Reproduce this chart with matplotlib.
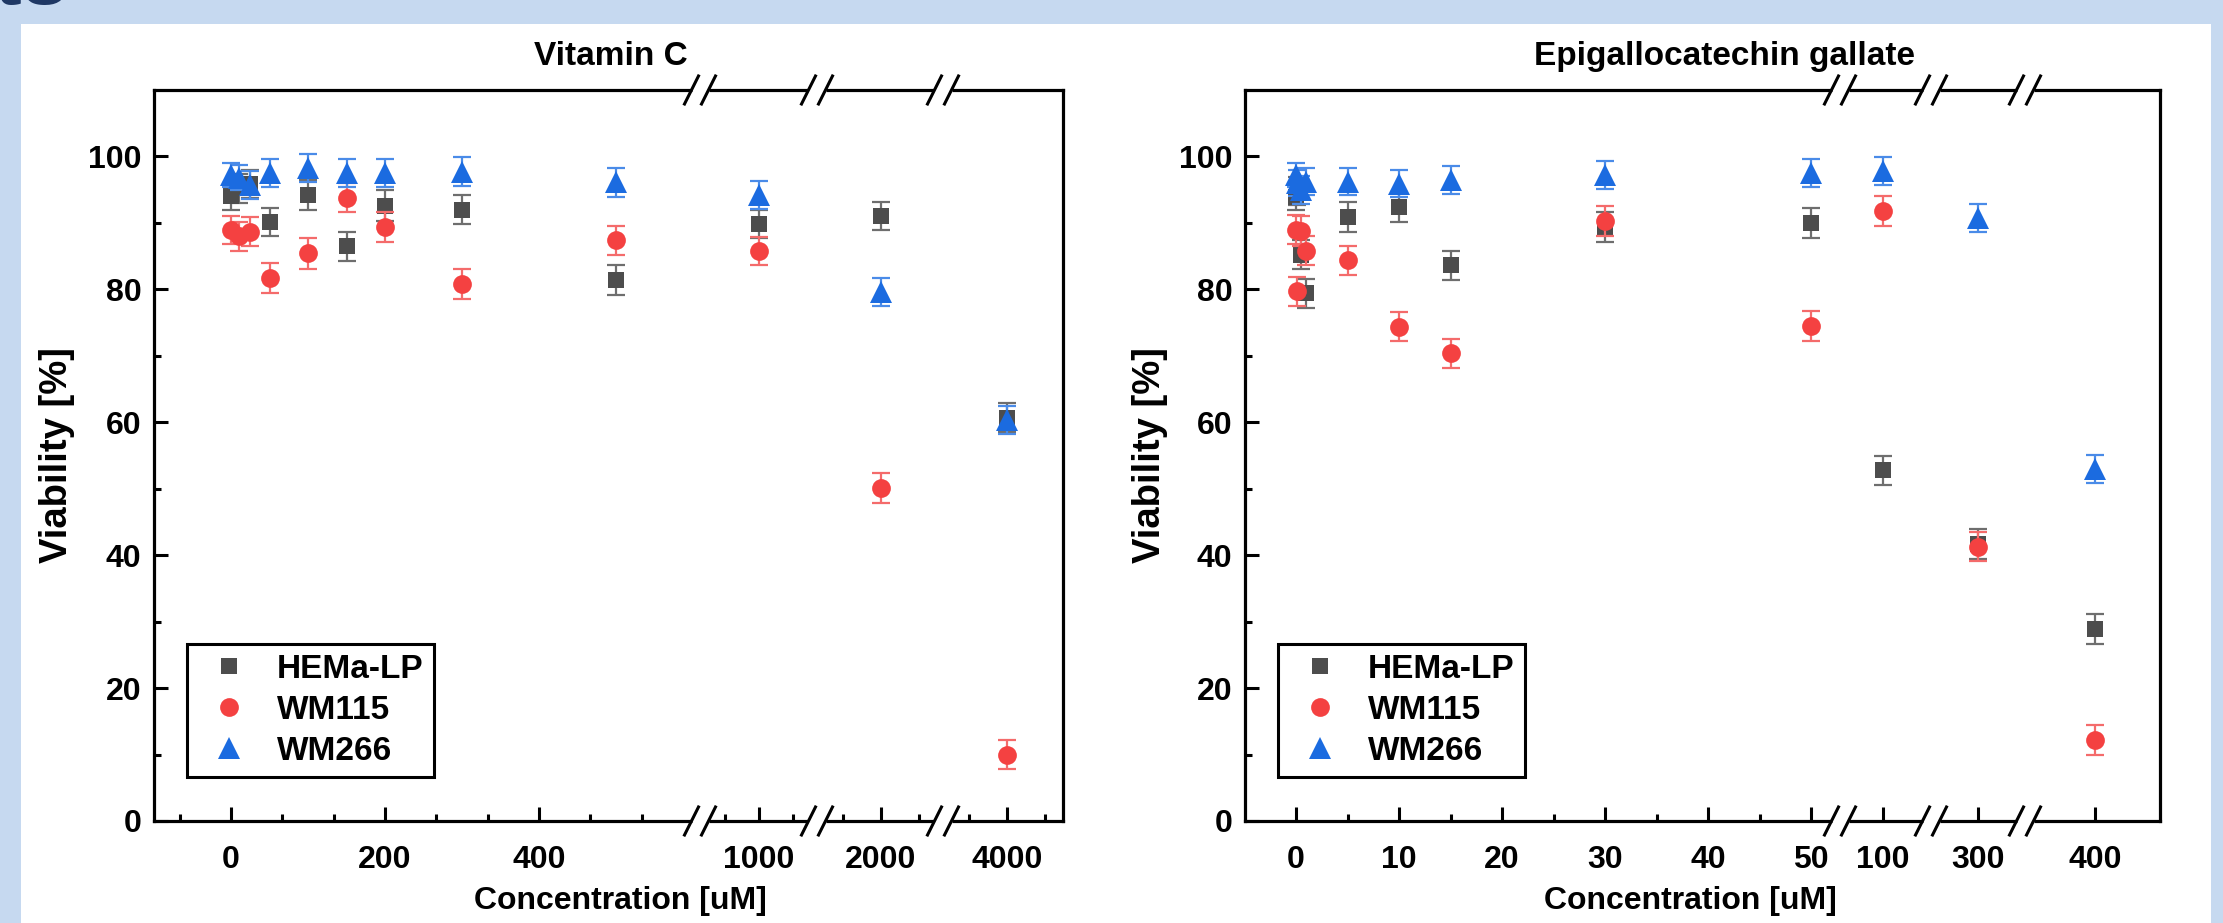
import numpy as np
import matplotlib
matplotlib.use('Agg')
import matplotlib.pyplot as plt
from matplotlib.patches import Rectangle

plt.rcParams['font.family'] = ['Liberation Sans', 'DejaVu Sans']
plt.rcParams['font.weight'] = 'bold'

# Data ------------------------------------------------------------------
series_names = ['HEMa-LP', 'WM115', 'WM266']

# Vitamin C
vitc_conc = [0, 10, 25, 50, 100, 150, 200, 300, 500, 1000, 2000, 4000]
vitc_hema = [94.0, 95.2, 95.8, 90.1, 94.2, 86.5, 92.6, 92.0, 81.4, 89.8, 91.0, 60.7]
vitc_hema_err = [2.0, 2.2, 2.1, 2.1, 2.3, 2.2, 2.3, 2.2, 2.2, 2.1, 2.1, 2.2]
vitc_wm115 = [89.0, 88.0, 88.7, 81.7, 85.4, 93.8, 89.4, 80.8, 87.4, 85.8, 50.1, 10.0]
vitc_wm115_err = [2.1, 2.2, 2.2, 2.2, 2.3, 2.2, 2.2, 2.2, 2.2, 2.1, 2.2, 2.2]
vitc_wm266 = [97.2, 96.8, 95.7, 97.5, 98.3, 97.5, 97.5, 97.7, 96.1, 94.2, 79.6, 60.3]
vitc_wm266_err = [1.8, 1.9, 2.1, 2.1, 2.1, 2.1, 2.1, 2.2, 2.2, 2.1, 2.1, 2.1]

# Epigallocatechin gallate
egcg_conc = [0, 0.1, 0.5, 1, 5, 10, 15, 30, 50, 100, 300, 400]
egcg_hema = [93.9, 94.8, 85.2, 79.4, 90.9, 92.4, 83.6, 89.4, 90.0, 52.8, 41.7, 28.9]
egcg_hema_err = [2.0, 2.1, 2.2, 2.2, 2.2, 2.2, 2.2, 2.2, 2.2, 2.2, 2.2, 2.2]
egcg_wm115 = [89.0, 79.7, 88.8, 85.8, 84.4, 74.4, 70.4, 90.3, 74.5, 91.8, 41.3, 12.2]
egcg_wm115_err = [2.2, 2.2, 2.2, 2.2, 2.2, 2.2, 2.2, 2.2, 2.2, 2.2, 2.2, 2.2]
egcg_wm266 = [97.2, 96.0, 95.0, 96.2, 96.2, 95.9, 96.5, 97.2, 97.5, 97.8, 90.7, 53.0]
egcg_wm266_err = [1.8, 2.0, 2.1, 2.0, 2.0, 2.0, 2.1, 2.1, 2.1, 2.1, 2.1, 2.1]

vitc_major = [0, 200, 400, 1000, 2000, 4000]
vitc_minor = [-200 / 3, 200 / 3, 400 / 3, 800 / 3, 1000 / 3, 1400 / 3, 1600 / 3,
              900, 1100, 1750, 2250, 3500, 4500]
egcg_major = [0, 10, 20, 30, 40, 50, 100, 300, 400]
egcg_minor = [5, 15, 25, 35, 45]

# Layout (pixels on the 2223x923 canvas) ----------------------------------
W, H = 2223, 923
BG = '#c6d9f0'
colors = ['#4d4d4d', '#f44141', '#1b6be0']
ecolors = ['#6e6e6e', '#f46b6b', '#4a8be8']
markers = ['s', 'o', '^']
msizes = [12, 13.5, 15.5]

# axes box: left, top, right, bottom
vitc_box = (154, 90, 1063, 821)
egcg_box = (1245, 90, 2160, 821)
# broken x axis: (anchor value, anchor px, px per unit, px start, px end)
vitc_segs = [(0, 231, 0.77, 154, 700),
             (1000, 759, 0.34, 700, 817),
             (2000, 881, 0.152, 817, 943),
             (4000, 1007, 0.076, 943, 1063)]
egcg_segs = [(0, 1296, 10.3, 1245, 1840),
             (100, 1883, 1.0, 1840, 1931),
             (300, 1978, 1.0, 1931, 2025),
             (400, 2095, 2.0, 2025, 2160)]


def seg_knots(segs):
  vk, pk = [], []
  for v0, p0, k, pa, pb in segs:
    vk += [v0 + (pa - p0) / k, v0 + (pb - p0) / k]
    pk += [pa, pb]
  return np.array(vk), np.array(pk, dtype=float)


def add_axes(fig, box):
  l, t, r, b = box
  return fig.add_axes([l / W, 1 - b / H, (r - l) / W, (b - t) / H])


def draw_breaks(ax, box, segs):
  l, t, r, b = box
  w, h = r - l, b - t
  for s in segs[1:]:
    xa = (s[3] - l) / w
    off = 8.5 / w
    for ya in (0, 1):
      ax.plot([xa - off, xa + off], [ya, ya], color='white', lw=5,
              transform=ax.transAxes, clip_on=False, zorder=10,
              solid_capstyle='butt')
      for c in (xa - off, xa + off):
        ax.plot([c - 7 / w, c + 7 / w], [ya - 14 / h, ya + 14 / h],
                color='black', lw=2.2, transform=ax.transAxes,
                clip_on=False, zorder=11)


def plot_panel(ax, box, segs, title, conc, ys, errs, major, minor,
               ylab_px, xlab_px, title_px):
  vk, pk = seg_knots(segs)
  fwd = lambda v: np.interp(v, vk, pk)
  inv = lambda p: np.interp(p, pk, vk)
  ax.set_xscale('function', functions=(fwd, inv))

  for i in range(3):
    ax.errorbar(conc, ys[i], yerr=errs[i], fmt='none', ecolor=ecolors[i],
                elinewidth=1.6, capsize=6.5, capthick=1.6, zorder=2 + i)
    ax.plot(conc, ys[i], linestyle='none', marker=markers[i],
            markersize=msizes[i], color=colors[i], markeredgewidth=0,
            label=series_names[i], zorder=2.5 + i)

  ax.set_xlim(vk[0], vk[-1])
  ax.set_ylim(0, 110)
  ax.set_xticks(major)
  ax.set_xticklabels([str(m) for m in major])
  ax.set_xticks(minor, minor=True)
  ax.set_yticks([0, 20, 40, 60, 80, 100])
  ax.set_yticks([10, 30, 50, 70, 90], minor=True)
  ax.tick_params(which='both', direction='in', top=False, right=False,
                 width=2.2, labelsize=23)
  ax.tick_params(which='major', length=10)
  ax.tick_params(which='minor', length=5)
  ax.tick_params(axis='y', pad=9)
  ax.tick_params(axis='x', pad=17)
  for sp in ax.spines.values():
    sp.set_linewidth(2.3)

  l, t, r, b = box
  ax.set_title(title, fontsize=24, fontweight='bold', pad=18,
               x=(title_px - l) / (r - l))
  ax.set_ylabel('Viability [%]', fontsize=27.5, fontweight='bold', va='center')
  ax.yaxis.set_label_coords((ylab_px - l) / (r - l), 0.5)
  # x label sits right at the bottom edge, as in the source figure
  ax.set_xlabel('Concentration [uM]', fontsize=23, fontweight='bold')
  ax.xaxis.set_label_coords((xlab_px - l) / (r - l), -(886 - b) / (b - t))

  leg = ax.legend(loc='lower left', bbox_to_anchor=(33 / (r - l), 44 / (b - t)),
                  borderaxespad=0, fancybox=False, edgecolor='black',
                  fontsize=24, handlelength=1.9, handletextpad=0.5,
                  borderpad=0.3, labelspacing=0.3, framealpha=1)
  leg.get_frame().set_linewidth(2.2)
  draw_breaks(ax, box, segs)


fig = plt.figure(figsize=(W / 100, H / 100), dpi=100, facecolor=BG)
fig.add_artist(Rectangle((21 / W, 0), (2211 - 21) / W, (H - 24) / H,
                         transform=fig.transFigure, facecolor='white',
                         edgecolor='none', zorder=0))
fig.text(-6 / W, 1 - 4 / H, 'ts', fontsize=60, fontweight='bold',
         color='#1f3864', va='baseline', ha='left')

ax1 = add_axes(fig, vitc_box)
plot_panel(ax1, vitc_box, vitc_segs, 'Vitamin C', vitc_conc,
           [vitc_hema, vitc_wm115, vitc_wm266],
           [vitc_hema_err, vitc_wm115_err, vitc_wm266_err],
           vitc_major, vitc_minor, 57, 620, 611)

ax2 = add_axes(fig, egcg_box)
plot_panel(ax2, egcg_box, egcg_segs, 'Epigallocatechin gallate', egcg_conc,
           [egcg_hema, egcg_wm115, egcg_wm266],
           [egcg_hema_err, egcg_wm115_err, egcg_wm266_err],
           egcg_major, egcg_minor, 1150, 1690, 1724)

fig.savefig('out.png', dpi=100, facecolor=BG)
